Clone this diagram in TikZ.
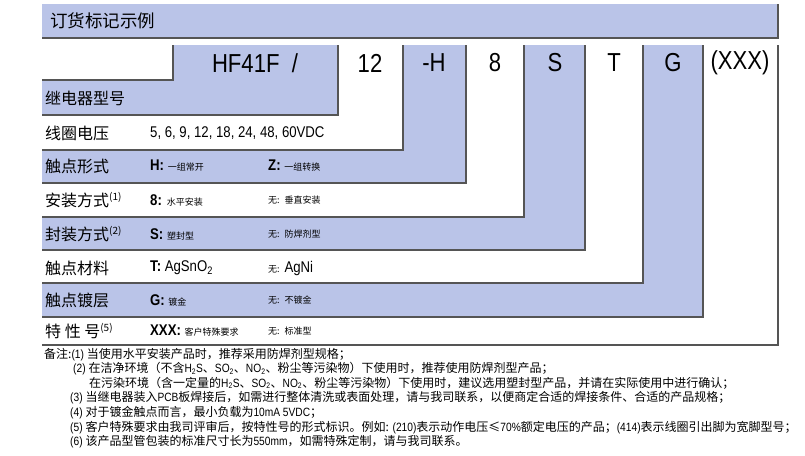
\documentclass[tikz,border=0pt]{standalone}
\usepackage{fontspec}
\setmainfont[FakeStretch=0.85]{Liberation Sans}
\newfontfamily\cjk{Noto Sans CJK SC}
\newfontfamily\cjkw{Noto Sans CJK SC}
\begin{document}
\begin{tikzpicture}[x=1pt,y=-1pt,
  sh/.style={draw=shd,line width=1.3pt},
  lab/.style={anchor=west,inner sep=0pt,font=\cjkw\fontsize{16}{16}\selectfont},
  val/.style={anchor=west,inner sep=0pt,font=\fontsize{15.5}{15.5}\selectfont},
  big/.style={inner sep=0pt,font=\fontsize{26}{26}\selectfont},
  note/.style={anchor=west,inner sep=0pt,font=\fontsize{12}{12}\selectfont}]
\definecolor{blu}{HTML}{BAC4E8}
\definecolor{shd}{HTML}{555555}
\useasboundingbox (0,0) rectangle (805,455);
% header
\fill[blu] (42,4) rectangle (778,38);
\draw[sh] (778,4) -- (778,38) -- (42,38);
\node[lab,font=\cjkw\fontsize{17.5}{17.5}\selectfont] (hd) at (50,21) {订货标记示例};
% blue regions
\fill[blu] (173,45) rectangle (338,115); \fill[blu] (42,80) rectangle (338,115);
\fill[blu] (403,45) rectangle (466,183); \fill[blu] (42,150) rectangle (466,183);
\fill[blu] (524,45) rectangle (585,250); \fill[blu] (42,217) rectangle (585,250);
\fill[blu] (643,45) rectangle (703,317); \fill[blu] (42,283) rectangle (703,317);
% shadow lines
\draw[sh] (173,45) -- (173,80) -- (42,80);
\foreach \r/\b in {338/115,403/150,466/183,524/217,585/250,643/283,703/317,778/345}
  \draw[sh] (\r,45) -- (\r,\b) -- (42,\b);
% column letters
\node[big] (c1) at (255,63) {HF41F\ \ /};
\node[big] (c2) at (370,63) {12};
\node[big] (c3) at (434,63) {-H};
\node[big] (c4) at (495,63) {8};
\node[big] (c5) at (555,63) {S};
\node[big] (c6) at (614,63) {T};
\node[big] (c7) at (673,63) {G};
\node[big] (c8) at (740,63) {(XXX)};
% rows
\node[lab] (r1) at (45,98) {继电器型号};
\node[lab] (r2) at (45,133) {线圈电压};
\node[val] (v2) at (150,133) {5, 6, 9, 12, 18, 24, 48, 60VDC};
\node[lab] (r3) at (45,166) {触点形式};
\node[val] (v3) at (150,166) {\textbf{H:} {\cjk\small 一组常开}};
\node[val] (w3) at (268,166) {\textbf{Z:} {\cjk\small 一组转换}};
\node[lab] (r4) at (45,200) {安装方式\textsuperscript{\fontsize{10}{10}\selectfont (1)}};
\node[val] (v4) at (150,200) {\textbf{8:} {\cjk\small 水平安装}};
\node[val] (w4) at (268,200) {{\cjk\small 无:} {\cjk\small 垂直安装}};
\node[lab] (r5) at (45,234) {封装方式\textsuperscript{\fontsize{10}{10}\selectfont (2)}};
\node[val] (v5) at (150,234) {\textbf{S:} {\cjk\small 塑封型}};
\node[val] (w5) at (268,234) {{\cjk\small 无:} {\cjk\small 防焊剂型}};
\node[lab] (r6) at (45,268) {触点材料};
\node[val] (v6) at (150,268) {\textbf{T:} AgSnO\textsubscript{2}};
\node[val] (w6) at (268,268) {{\cjk\small 无:} AgNi};
\node[lab] (r7) at (45,300) {触点镀层};
\node[val] (v7) at (150,300) {\textbf{G:} {\cjk\small 镀金}};
\node[val] (w7) at (268,300) {{\cjk\small 无:} {\cjk\small 不镀金}};
\node[lab] (r8) at (45,331) {特\ 性\ 号\textsuperscript{\fontsize{10}{10}\selectfont (5)}};
\node[val] (v8) at (150,331) {\textbf{XXX:} {\cjk\small 客户特殊要求}};
\node[val] (w8) at (268,331) {{\cjk\small 无:} {\cjk\small 标准型}};
% notes
\node[note] (n1) at (44,355) {{\cjk 备注:}(1) {\cjk 当使用水平安装产品时，推荐采用防焊剂型规格；}};
\node[note] (n2) at (73,369) {(2) {\cjk 在洁净环境（不含}H\textsubscript{2}S{\cjk 、}SO\textsubscript{2}{\cjk 、}NO\textsubscript{2}{\cjk 、粉尘等污染物）下使用时，推荐使用防焊剂型产品；}};
\node[note] (n3) at (89,383) {{\cjk 在污染环境（含一定量的}H\textsubscript{2}S{\cjk 、}SO\textsubscript{2}{\cjk 、}NO\textsubscript{2}{\cjk 、粉尘等污染物）下使用时，建议选用塑封型产品，并请在实际使用中进行确认；}};
\node[note] (n4) at (70,398) {(3) {\cjk 当继电器装入}PCB{\cjk 板焊接后，如需进行整体清洗或表面处理，请与我司联系，以便商定合适的焊接条件、合适的产品规格；}};
\node[note] (n5) at (70,413) {(4) {\cjk 对于镀金触点而言，最小负载为}10mA 5VDC{\cjk ；}};
\node[note] (n6) at (70,428) {(5) {\cjk 客户特殊要求由我司评审后，按特性号的形式标识。例如:} (210){\cjk 表示动作电压≤}70\%{\cjk 额定电压的产品；}(414){\cjk 表示线圈引出脚为宽脚型号；}};
\node[note] (n7) at (70,442) {(6) {\cjk 该产品型管包装的标准尺寸长为}550mm{\cjk ，如需特殊定制，请与我司联系。}};
\end{tikzpicture}
\end{document}
